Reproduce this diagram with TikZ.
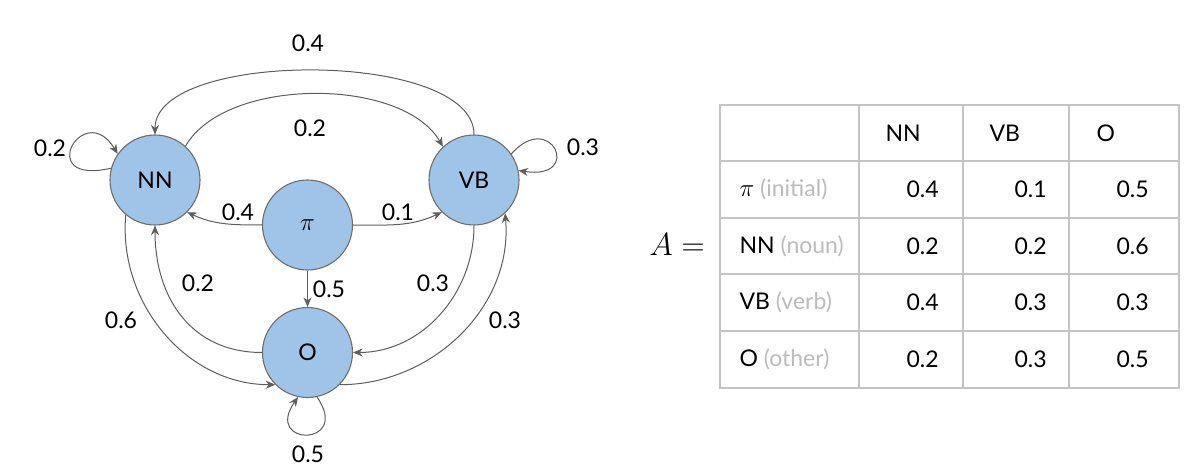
\RequirePackage{fix-cm}
\documentclass[tikz,border=0pt]{standalone}
\usepackage{fontspec}
\setmainfont{Lato}
\usepackage{amsmath}
\usetikzlibrary{arrows.meta}
\definecolor{statefill}{HTML}{A0C4E8}
\definecolor{stateline}{HTML}{6E6E6E}
\definecolor{edgecol}{HTML}{5E5E5E}
\definecolor{gridcol}{HTML}{C4C4C4}
\definecolor{softgray}{HTML}{BBBBBB}
\def\pisym{{\fontsize{25}{28}\selectfont$\pi$}}

\begin{document}
\begin{tikzpicture}[x=1pt,y=1pt]
      \tikzset{state/.style={circle,draw=stateline,fill=statefill,line width=1.1pt,
          minimum size=90pt,inner sep=0pt,font=\fontsize{23}{26}\selectfont},
        lbl/.style={font=\fontsize{23}{26}\selectfont},
        link/.style={draw=edgecol,line width=1pt,-{Stealth[length=9.5pt,width=8pt,inset=3pt]}},
        cell/.style={anchor=west,font=\fontsize{23}{26}\selectfont}}
      \useasboundingbox (0,0) rectangle (1200,472);
      \node[state](nn) at (155,292){NN};
      \node[state](vb) at (474,292){VB};
      \node[state](pi) at (307.5,247){\pisym};
      \node[state](o) at (307.5,119.5){O};
      \draw[link] (vb.north) .. controls +(0,85) and +(0,85) .. (nn.north);
      \draw[link] (nn.48) to[out=60,in=120,looseness=0.8] (vb.133);
      \draw[link] (nn.165) .. controls +(-78,-18) and +(-34,56) .. (nn.145);
      \draw[link] (vb.35) .. controls +(40,45) and +(65,-10) .. (vb.12);
      \draw[link] (o.-78) .. controls +(35,-50) and +(-35,-50) .. (o.-102);
      \draw[link] (pi.west) to[out=180,in=-25] (nn.-45);
      \draw[link] (pi.east) to[out=0,in=-155] (vb.-135);
      \draw[link] (pi.south) -- (o.north);
      \draw[link] (o.west) to[out=180,in=-90,looseness=1.1] (nn.south);
      \draw[link] (nn.-130) to[out=-95,in=180] (o.-135);
      \draw[link] (vb.south) to[out=-90,in=0] (o.east);
      \draw[link] (o.-45) to[out=0,in=-85] (vb.-47);
      \node[lbl](top) at (308,429){0.4};
      \node[lbl](mid) at (310,344){0.2};
      \node[lbl](nnself) at (50,324){0.2};
      \node[lbl](vbself) at (583,325){0.3};
      \node[lbl](oself) at (308,18){0.5};
      \node[lbl](pinn) at (238,260){0.4};
      \node[lbl](pivb) at (398,260){0.1};
      \node[lbl](pio) at (329,183){0.5};
      \node[lbl](onn) at (198,189){0.2};
      \node[lbl](nno) at (121,152){0.6};
      \node[lbl](vbo) at (433,189){0.3};
      \node[lbl](ovb) at (505,152){0.3};
      \node[font=\fontsize{32}{36}\selectfont](lhs) at (677,227){$A=$};
      \draw[gridcol,line width=1.4pt] (720,84) rectangle (1179,367);
      \foreach \y in {311,254,198,141} \draw[gridcol,line width=1.4pt] (720,\y) -- (1179,\y);
      \foreach \x in {859,963,1069} \draw[gridcol,line width=1.4pt] (\x,84) -- (\x,367);
      \node[cell](hnn) at (882,339){NN};
      \node[cell](hvb) at (986,339){VB};
      \node[cell](ho) at (1093,339){O};
      \foreach \y/\tag/\note/\a/\b/\c [count=\i] in
        {282.5/\pisym/initial/0.4/0.1/0.5, 226/NN/noun/0.2/0.2/0.6,
         169.5/VB/verb/0.4/0.3/0.3, 112.5/O/other/0.2/0.3/0.5} {
        \node[cell](row\i) at (736,\y){\tag\ {\color{softgray}(\note)}};
        \node[cell](a\i) at (903,\y){\a};
        \node[cell](b\i) at (1011,\y){\b};
        \node[cell](c\i) at (1113,\y){\c};
      }
    \end{tikzpicture}
\end{document}
